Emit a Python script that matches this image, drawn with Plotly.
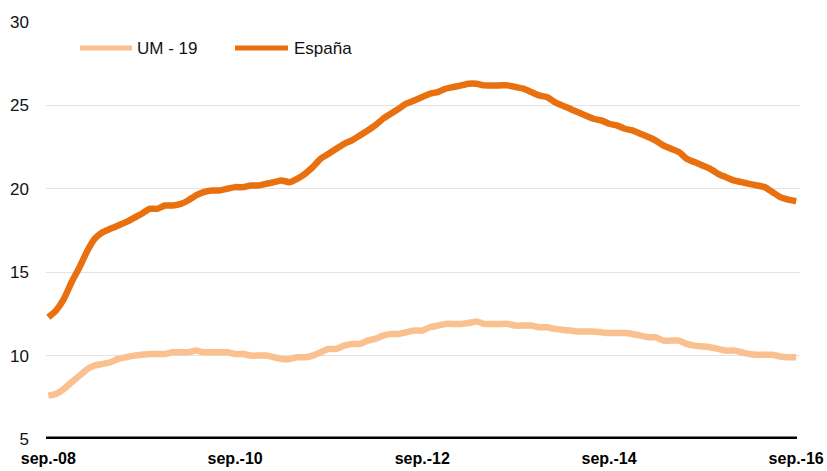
import pandas as pd
import plotly.graph_objects as go

months = pd.date_range("2008-09-01", periods=97, freq="MS")

espana = [12.3, 12.7, 13.4, 14.4, 15.3, 16.3, 17.0, 17.4, 17.6, 17.8,
          18.0, 18.25, 18.5, 18.8, 18.8, 19.0, 19.0, 19.1, 19.3, 19.6,
          19.8, 19.9, 19.9, 20.0, 20.1, 20.1, 20.2, 20.2, 20.3, 20.4,
          20.5, 20.4, 20.6, 20.9, 21.3, 21.8, 22.1, 22.4, 22.7, 22.9,
          23.2, 23.5, 23.8, 24.2, 24.5, 24.8, 25.1, 25.3, 25.5, 25.7,
          25.8, 26.0, 26.1, 26.2, 26.3, 26.3, 26.2, 26.2, 26.2, 26.2,
          26.1, 26.0, 25.8, 25.6, 25.5, 25.2, 25.0, 24.8, 24.6, 24.4,
          24.2, 24.1, 23.9, 23.8, 23.6, 23.5, 23.3, 23.1, 22.9, 22.6,
          22.4, 22.2, 21.8, 21.6, 21.4, 21.2, 20.9, 20.7, 20.5, 20.4,
          20.3, 20.2, 20.1, 19.8, 19.5, 19.35, 19.25]

um19 = [7.6, 7.7, 8.0, 8.4, 8.8, 9.2, 9.4, 9.5, 9.6, 9.8,
        9.9, 10.0, 10.05, 10.1, 10.1, 10.1, 10.2, 10.2, 10.2, 10.3,
        10.2, 10.2, 10.2, 10.2, 10.1, 10.1, 10.0, 10.0, 10.0, 9.9,
        9.8, 9.8, 9.9, 9.9, 10.0, 10.2, 10.4, 10.4, 10.6, 10.7,
        10.7, 10.9, 11.0, 11.2, 11.3, 11.3, 11.4, 11.5, 11.5, 11.7,
        11.8, 11.9, 11.9, 11.9, 11.95, 12.05, 11.9, 11.9, 11.9, 11.9,
        11.8, 11.8, 11.8, 11.7, 11.7, 11.6, 11.55, 11.5, 11.45, 11.45,
        11.45, 11.4, 11.35, 11.35, 11.35, 11.3, 11.2, 11.1, 11.1, 10.9,
        10.9, 10.9, 10.7, 10.6, 10.55, 10.5, 10.4, 10.3, 10.3, 10.2,
        10.1, 10.05, 10.05, 10.05, 9.95, 9.9, 9.9]

tick_vals = ["2008-09-01", "2010-09-01", "2012-09-01", "2014-09-01", "2016-09-01"]
tick_text = ["sep.-08", "sep.-10", "sep.-12", "sep.-14", "sep.-16"]
y_ticks = [5, 10, 15, 20, 25, 30]

c_um = "#FBC08F"
c_es = "#E8700E"

fig = go.Figure()
fig.add_trace(go.Scatter(x=months, y=um19, mode="lines", name="UM - 19",
                         line=dict(color=c_um, width=6.5, shape="spline", smoothing=0.5)))
fig.add_trace(go.Scatter(x=months, y=espana, mode="lines", name="España",
                         line=dict(color=c_es, width=6.5, shape="spline", smoothing=0.5)))

# baseline bar
fig.add_shape(type="line", xref="paper", yref="y", x0=0.0, x1=0.996, y0=5, y1=5,
              line=dict(color="black", width=5), layer="above")

# manual legend
legend_items = [("UM - 19", c_um, 80, 132, 135), ("España", c_es, 235, 288, 292)]
W, H = 827, 471
ml, mr, mt, mb = 46, 27, 22, 32
pw = W - ml - mr
ph = H - mt - mb
for name, col, x0, x1, xt in legend_items:
    fig.add_shape(type="line", xref="paper", yref="paper",
                  x0=(x0 - ml) / pw, x1=(x1 - ml) / pw,
                  y0=1 - (48 - mt) / ph, y1=1 - (48 - mt) / ph,
                  line=dict(color=col, width=5))
    fig.add_annotation(xref="paper", yref="paper", x=(xt - ml) / pw,
                       y=1 - (48 - mt) / ph, text=name, showarrow=False,
                       xanchor="left", yanchor="middle",
                       font=dict(family="Liberation Sans, Arial", size=17, color="#111"))

fig.update_layout(
    width=W, height=H,
    margin=dict(l=ml, r=mr, t=mt, b=mb, autoexpand=False),
    plot_bgcolor="white", paper_bgcolor="white",
    showlegend=False,
    xaxis=dict(range=[pd.Timestamp("2008-08-23"), pd.Timestamp("2016-09-16")],
               tickvals=tick_vals, ticktext=tick_text, showgrid=False,
               zeroline=False, showline=False, ticks="", automargin=False,
               ticklabelstandoff=8,
               tickfont=dict(family="Liberation Sans, Arial", size=16, color="black",
                             weight="bold")),
    yaxis=dict(range=[5, 30], tickvals=y_ticks, showgrid=True, gridcolor="#e3e3e3",
               gridwidth=1, zeroline=False, showline=False, ticks="", automargin=False,
               ticklabelstandoff=16,
               tickfont=dict(family="Liberation Sans, Arial", size=17, color="#111")),
)

fig.write_html("out.html", config={"displayModeBar": False},
               post_script="document.body.style.margin='0';document.body.style.overflow='hidden';")
